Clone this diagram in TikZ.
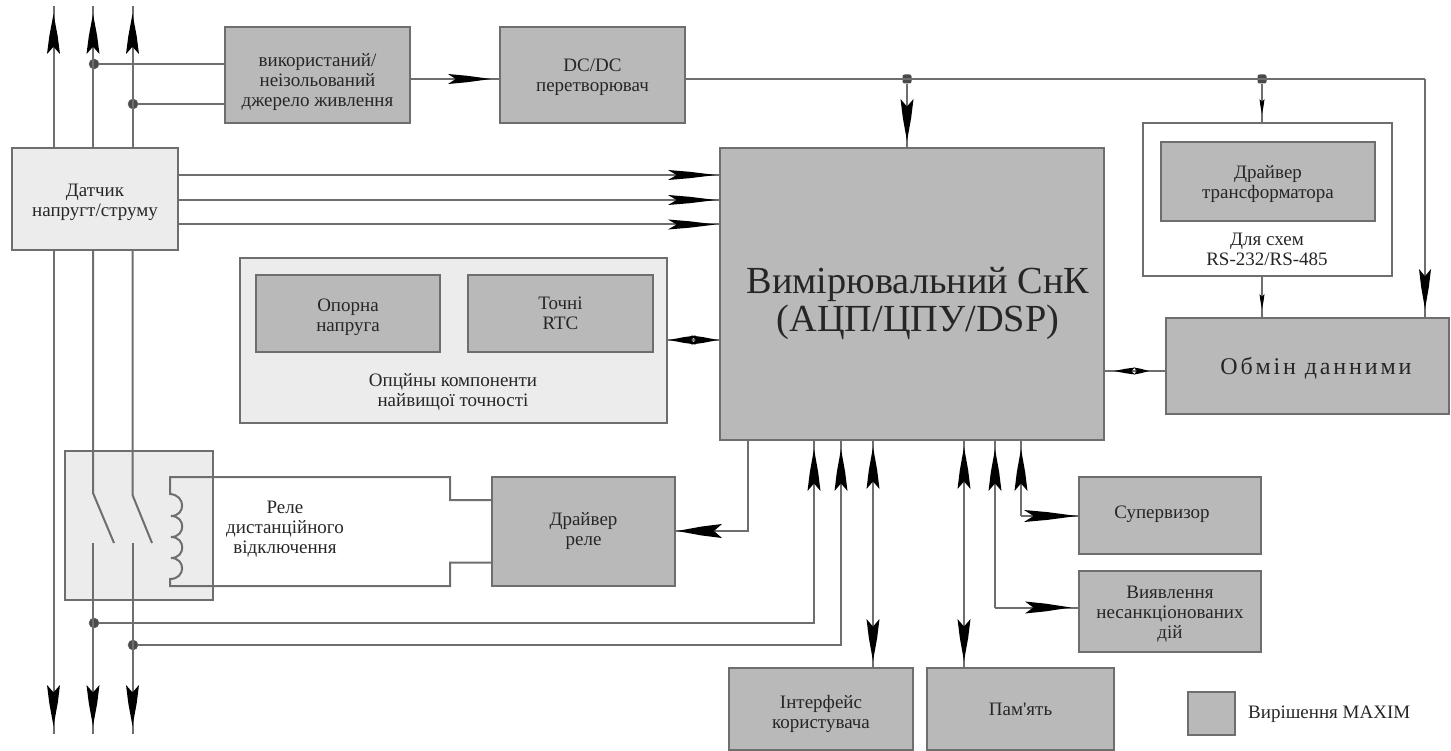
\documentclass[tikz,border=0pt]{standalone}
\usepackage{fontspec}
\setmainfont{Liberation Serif}[Ligatures=TeXOff]
\usetikzlibrary{decorations.markings}
\definecolor{edge}{HTML}{6E6E6E}
\definecolor{dark}{HTML}{B9B9B9}
\definecolor{pale}{HTML}{ECECEC}
\definecolor{ink}{HTML}{262626}
\definecolor{dotc}{HTML}{4A4A4A}
\tikzset{
  box/.style={draw=edge,line width=2pt,inner sep=0pt,align=center,text=ink,font=\fontsize{19}{20}\selectfont},
  gbox/.style={box,fill=dark},
  lbox/.style={box,fill=pale},
  wbox/.style={box,fill=white},
  lab/.style={inner sep=0pt,align=center,text=ink,font=\fontsize{19}{20}\selectfont},
  wire/.style={draw=edge,line width=2pt},
  jun/.style={circle,fill=dotc,draw=edge,line width=.5pt,inner sep=0pt,minimum size=10pt},
  jsq/.style={rectangle,rounded corners=2pt,fill=dotc,inner sep=0pt,minimum size=9pt},
  hd/.style args={#1:#2:#3:#4}{postaction={decorate,decoration={markings,
     mark=at position #1 with {\fill[black] (0,0)--({-(#4)*0.55*(#2)},{(#3)*0.32})--({-(#4)*(#2)},{(#3)/2})--({-(#4)*0.82*(#2)},0)--({-(#4)*(#2)},{-(#3)/2})--({-(#4)*0.55*(#2)},{-(#3)*0.32})--cycle;}}}}
}
\begin{document}
\begin{tikzpicture}[x=1pt,y=-1pt]
\useasboundingbox (0,0) rectangle (1451,751);
% coordinates of buses
\coordinate (aT) at (53.5,6);  \coordinate (bT) at (93,6);  \coordinate (cT) at (132.5,6);
\coordinate (aB) at (53.5,734);\coordinate (bB) at (93,734);\coordinate (cB) at (132.5,734);
\coordinate (bO) at (93,493);  \coordinate (cO) at (132.5,495);
\coordinate (bE) at (114,543); \coordinate (cE) at (152,543);
\coordinate (bS) at (93,543);  \coordinate (cS) at (132.5,543);
\coordinate (pw) at (0,79);
\coordinate (pwR) at (1425,79);
% boxes
\node[lbox,minimum width=148pt,minimum height=149pt] (relay) at (139,525.5) {};
\node[lbox,minimum width=166pt,minimum height=102pt] (sensor) at (95,199) {};
\node[lab] (sensorT) at (95,202.5) {Датчик\\напругт/струму};
\node[gbox,minimum width=185pt,minimum height=96pt] (src) at (317.5,75) {};
\node[lab] (srcT) at (317.5,82) {використаний/\\неізольований\\джерело живлення};
\node[gbox,minimum width=185pt,minimum height=96pt] (dc) at (592.5,75) {};
\node[lab] (dcT) at (592.5,77) {DC/DC\\перетворювач};
\node[gbox,minimum width=384pt,minimum height=292pt] (soc) at (912,294) {};
\node[lab,font=\fontsize{38.3}{38}\selectfont] (socT) at (918,303) {Вимірювальний СнК\\(АЦП/ЦПУ/DSP)};
\node[wbox,minimum width=249pt,minimum height=153pt] (outer) at (1267.5,199.5) {};
\node[gbox,minimum width=214pt,minimum height=79pt] (inner) at (1268,181.5) {};
\node[lab] (innerT) at (1268,184) {Драйвер\\трансформатора};
\node[lab] (outerT) at (1267,249) {Для схем\\RS-232/RS-485};
\node[gbox,minimum width=283pt,minimum height=96pt] (exch) at (1307.5,366) {};
\node[lab,font=\fontsize{24}{28}\selectfont\addfontfeatures{LetterSpace=12}] (exchT) at (1316,368) {Обмін данними};
\node[lbox,minimum width=427pt,minimum height=165pt] (acc) at (453.5,340.5) {};
\node[gbox,minimum width=184pt,minimum height=77pt] (ref) at (348,313.5) {};
\node[lab] (refT) at (348,317) {Опорна\\напруга};
\node[gbox,minimum width=185pt,minimum height=77pt] (rtc) at (560.5,313.5) {Точні\\RTC};
\node[lab] (accT) at (453,392) {Опцйны компоненти\\найвищої точності};
\node[gbox,minimum width=183pt,minimum height=109pt] (drv) at (583.5,531.5) {Драйвер\\реле};
\node[lab] (relT) at (285,529) {Реле\\дистанційного\\відключення};
\node[gbox,minimum width=182pt,minimum height=77pt] (sup) at (1170,515.5) {};
\node[lab] (supT) at (1162,514) {Супервизор};
\node[gbox,minimum width=182pt,minimum height=81pt] (tam) at (1170,611.5) {};
\node[lab] (tamT) at (1170,614) {Виявлення\\несанкціонованих\\дій};
\node[gbox,minimum width=184pt,minimum height=82pt] (ui) at (821,709) {};
\node[lab] (uiT) at (821,714) {Інтерфейс\\користувача};
\node[gbox,minimum width=187pt,minimum height=82pt] (mem) at (1020.5,709) {Пам'ять};
\node[gbox,minimum width=47pt,minimum height=43pt] (leg) at (1211.5,713.5) {};
\node[lab,anchor=west] (legT) at (1248,714) {Вирішення MAXIM};
% junctions
\node[jun] (j1) at (94,64) {};
\node[jun] (j2) at (133,104) {};
\node[jsq] (j3) at (907,79) {};
\node[jsq] (j4) at (1262,79) {};
\node[jun] (j5) at (94,623) {};
\node[jun] (j6) at (133,645) {};
% bus wires
\draw[wire,hd={133pt:40:13:1}] (sensor.north -| aT) -- (aT);
\draw[wire,hd={133pt:40:13:1}] (sensor.north -| bT) -- (bT);
\draw[wire,hd={133pt:40:13:1}] (sensor.north -| cT) -- (cT);
\draw[wire,hd={-8pt:41:13:1}] (sensor.south -| aB) -- (aB);
\draw[wire] (sensor.south -| bO) -- (bO) -- (bE);
\draw[wire] (sensor.south -| cO) -- (cO) -- (cE);
\draw[wire,hd={-8pt:41:13:1}] (bS) -- (bB);
\draw[wire,hd={-8pt:41:13:1}] (cS) -- (cB);
% source / dc
\draw[wire] (j1) -- (j1 -| src.west);
\draw[wire] (j2) -- (j2 -| src.west);
\draw[wire,hd={-8pt:43:10:1}] (src.east |- pw) -- (dc.west |- pw);
\draw[wire] (dc.east |- pw) -- (pwR);
\draw[wire,hd={-8pt:40:12:1}] (pwR) -- (pwR |- exch.north);
\draw[wire,hd={-6pt:42:13:1}] (j3) -- (j3 |- soc.north);
\draw[wire,hd={-8pt:15:5:1}] (j4) -- (j4 |- outer.north);
\draw[wire,hd={-8pt:15:5:1}] (outer.south -| j4) -- (exch.north -| j4);
% sensor to soc
\coordinate (s1) at (0,175);\coordinate (s2) at (0,200);\coordinate (s3) at (0,224.5);
\draw[wire,hd={-3pt:48:10:1}] (sensor.east |- s1) -- (soc.west |- s1);
\draw[wire,hd={-3pt:48:10:1}] (sensor.east |- s2) -- (soc.west |- s2);
\draw[wire,hd={-3pt:48:10:1}] (sensor.east |- s3) -- (soc.west |- s3);
% accuracy
\coordinate (s4) at (0,340);
\draw[wire,hd={-1pt:27:9:1},hd={1pt:27:9:-1}] (acc.east |- s4) -- (soc.west |- s4);
% exchange
\coordinate (s5) at (0,371);
\draw[wire,hd={-16pt:15:7:1},hd={9pt:21:7:-1}] (soc.east |- s5) -- (exch.west |- s5);
% coil
\coordinate (cT1) at (170,477);\coordinate (cB1) at (170,586);
\coordinate (k1) at (450,477);\coordinate (k2) at (450,500);\coordinate (k3) at (450,562.5);\coordinate (k4) at (450,586);
\draw[wire] (drv.west |- k2) -- (k2) -- (k1) -- (cT1) -- (170,494)
  .. controls (186,495) and (186,516) .. (171,516)
  .. controls (186,516) and (186,537) .. (171,537)
  .. controls (186,537) and (186,558) .. (171,558)
  .. controls (186,558) and (186,579) .. (170,579)
  -- (cB1) -- (k4) -- (k3) -- (drv.west |- k3);
% driver
\coordinate (dv) at (748,531);
\draw[wire,hd={-1pt:45:14:1}] (soc.south -| dv) -- (dv) -- (drv.east |- dv);
% trip lines
\coordinate (t1) at (814,623);\coordinate (t2) at (841,645);
\draw[wire,hd={-8pt:42:13:1}] (j5) -- (t1) -- (t1 |- soc.south);
\draw[wire,hd={-8pt:42:13:1}] (j6) -- (t2) -- (t2 |- soc.south);
% ui
\coordinate (u) at (873,440);\coordinate (m) at (964,440);
\draw[wire,hd={-6pt:42:13:1},hd={6pt:42:13:-1}] (ui.north -| u) -- (soc.south -| u);
\draw[wire,hd={-6pt:42:13:1},hd={6pt:42:13:-1}] (mem.north -| m) -- (soc.south -| m);
% tamper, supervisor
\coordinate (ta) at (995,607.5);\coordinate (su) at (1021,516);
\draw[wire,hd={-8pt:42:13:1}] (ta) -- (ta |- soc.south);
\draw[wire,hd={-7pt:46:12:1}] (ta) -- (tam.west |- ta);
\draw[wire,hd={-8pt:42:13:1}] (su) -- (su |- soc.south);
\draw[wire,hd={-1pt:53:12:1}] (su) -- (sup.west |- su);
\end{tikzpicture}
\end{document}
